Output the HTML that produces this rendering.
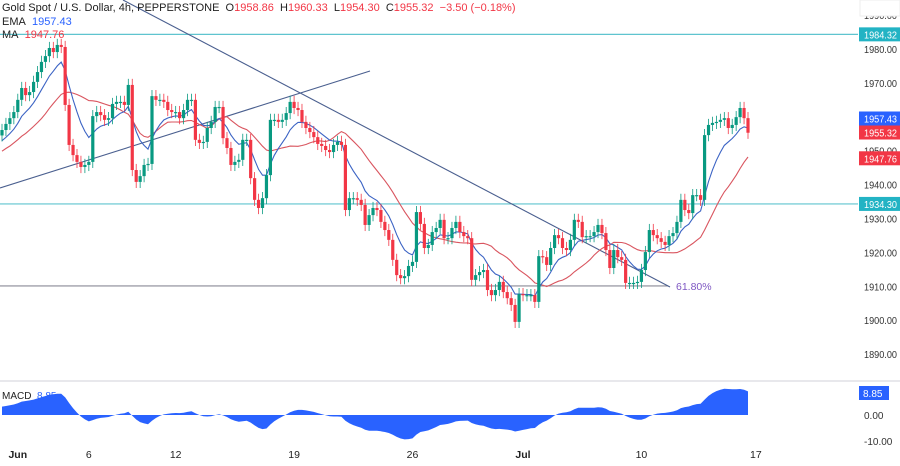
<!DOCTYPE html>
<html><head><meta charset="utf-8"><style>
body{margin:0;background:#fff;width:900px;height:461px;overflow:hidden;font-family:"Liberation Sans",sans-serif}
svg text{font-family:"Liberation Sans",sans-serif}
</style></head><body>
<svg id="c" width="900" height="461" xmlns="http://www.w3.org/2000/svg"></svg>
<script>
const preCloses=[1940,1942,1945,1943,1946,1948,1950,1947,1949,1951,1952,1950,1948,1951,1953,1955,1952,1950,1954,1955];
const closes=[1956.1,1957.9,1959.6,1961.4,1965.0,1968.5,1966.4,1967.3,1970.3,1973.2,1976.2,1977.9,1980.3,1979.1,1981.2,1980.6,
1963.5,1951.7,1948.7,1946.7,1945.2,1945.8,1946.7,
1960.2,1961.4,1960.5,1959.1,1959.6,1963.8,1964.4,1964.4,1963.5,1969.4,
1944.3,1940.8,1942.5,1945.8,1946.1,1966.1,1965.0,1965.0,1964.4,1962.0,1961.4,1961.4,1959.6,1962.0,1965.0,1965.0,
1953.2,1952.3,1952.6,1956.7,1958.5,1962.9,1962.9,1953.7,1950.8,1945.8,1946.7,1947.3,1953.2,1953.2,
1941.9,1935.5,1933.1,1936.0,1942.8,1959.1,1959.1,1958.5,1959.1,1961.1,1964.4,1962.6,
1962.0,1958.5,1956.7,1955.5,1954.0,1952.0,1951.4,1950.2,1949.6,1951.7,1952.6,1951.7,
1932.5,1936.0,1936.0,1935.5,1934.0,1928.1,1931.0,1933.1,1932.5,1929.0,1926.6,1923.7,1917.8,1913.3,1912.4,1913.0,1916.0,1917.2,
1931.9,1928.4,1921.3,1922.2,1926.0,1927.2,1929.6,1924.2,1924.2,1927.2,1929.0,1926.0,1924.8,1924.2,
1911.9,1913.3,1914.2,1914.8,1908.9,1907.4,1908.9,1911.3,1908.3,1906.5,1904.5,1899.5,1907.7,1907.4,1907.4,1907.4,1905.4,
1918.9,1918.6,1916.3,1921.3,1925.1,1924.2,1921.3,1920.7,1923.7,1929.6,1929.0,1924.5,1924.8,1924.8,1926.0,1928.1,1925.7,1920.7,1915.4,1920.7,1918.6,1917.8,1911.0,1911.0,1911.0,1911.3,1914.8,1920.1,1926.6,1925.1,1924.2,1923.1,1922.2,1924.8,1925.7,1929.0,1935.5,1932.5,1931.6,1936.9,1936.9,1935.5,1954.6,1957.6,1958.2,1958.5,1959.1,1959.6,1956.7,1957.6,1959.9,1962.6,1959.6,1955.3];
const priceTicks=[1990,1980,1970,1960,1950,1940,1930,1920,1910,1900,1890];
const macdTicks=[0,-10];
const dateLabels=["Jun","6","12","19","26","Jul","10","17"];
const dateIdx=[4,22,44,74,104,132,162,191];
const levels=[1984.32,1934.30];
const fibLevel=1910.1;

const svg=document.getElementById('c');const NS='http://www.w3.org/2000/svg';
function mk(t,a,p){const e=document.createElementNS(NS,t);for(const k in a)e.setAttribute(k,a[k]);(p||svg).appendChild(e);return e;}
const N=closes.length;
const X=i=>2+i*(746/(N-1));
const Y=p=>49+(1980-p)*3.39;
const MY=v=>415-v*2.6;
levels.forEach((l,k)=>{const e=mk('line',{x1:0,x2:858,y1:Y(l),y2:Y(l),stroke:'#5fc4cf','stroke-width':1.2});
});
const fib=mk('line',{x1:0,x2:668,y1:Y(fibLevel),y2:Y(fibLevel),stroke:'#8a8a96','stroke-width':1.2});

const ft=mk('text',{x:676,y:Y(fibLevel)+4,'font-size':10.5,fill:'#7e57c2'});ft.textContent='61.80%';

const t1=mk('line',{x1:123,y1:0,x2:670,y2:287,stroke:'#4a5f8f','stroke-width':1.1});

const t2=mk('line',{x1:0,y1:188,x2:370,y2:71,stroke:'#4a5f8f','stroke-width':1.1});

const all=preCloses.concat(closes);const P=preCloses.length;
function ema(arr,n){const k=2/(n+1);let out=[],v=arr[0];arr.forEach(a=>{v=a*k+v*(1-k);out.push(v);});return out;}
const e9=ema(all,9);
const ma=all.map((_,i)=>{const s=all.slice(Math.max(0,i-19),i+1);return s.reduce((a,b)=>a+b,0)/s.length;});
const e12=ema(all,12),e26=ema(all,26);const macd=all.map((_,i)=>e12[i]-e26[i]);
function line(vals,col,name){let d='';for(let i=0;i<N;i++)d+=(i?'L':'M')+X(i).toFixed(1)+','+Y(vals[i+P]).toFixed(1);
const e=mk('path',{d:d,fill:'none',stroke:col,'stroke-width':1.1});}
line(ma,'#d9555f','ma-line');line(e9,'#3b63c4','ema-line');
const g=mk('g',{});
for(let i=0;i<N;i++){const o=i?closes[i-1]:1954.5,c=closes[i];const up=c>=o;const col=up?'#089981':'#f23645';
const hi=Math.max(o,c)+1.8,lo=Math.min(o,c)-1.8;const x=X(i);
const w=mk('line',{x1:x,x2:x,y1:Y(hi),y2:Y(lo),stroke:col,'stroke-width':0.8},g);

const b=mk('rect',{x:x-1.6,y:Y(Math.max(o,c)),width:3.2,height:Math.max(1.2,Math.abs(Y(o)-Y(c))),fill:col},g);
}
priceTicks.forEach(p=>{const t=mk('text',{x:864,y:Y(p)+4,'font-size':10,fill:'#333',textLength:33,lengthAdjust:'spacingAndGlyphs'});t.textContent=p.toFixed(2);
});
const wb=mk('rect',{x:860,y:0,width:40,height:16,fill:'#fff',stroke:'#eee'});
function badge(p,col,name,yo){const y=yo||Y(p);const r=mk('rect',{x:859,y:y-7,width:41,height:14,fill:col});

const t=mk('text',{x:864,y:y+4,'font-size':10,fill:'#fff',textLength:33,lengthAdjust:'spacingAndGlyphs'});t.textContent=p.toFixed(2);
}
badge(1984.32,'#22b3c4','level-badge-top');badge(1957.43,'#2962ff','ema-badge',118.5);
badge(1955.32,'#f23645','close-badge',132.5);badge(1947.76,'#f23645','ma-badge');badge(1934.30,'#22b3c4','level-badge-bottom');
const hd=mk('text',{x:2,y:11,'font-size':11,fill:'#222'});
hd.innerHTML='Gold Spot / U.S. Dollar, 4h, PEPPERSTONE&#160;&#160;O<tspan fill="#f23645">1958.86</tspan>&#160;&#160;H<tspan fill="#f23645">1960.33</tspan>&#160;&#160;L<tspan fill="#f23645">1954.30</tspan>&#160;&#160;C<tspan fill="#f23645">1955.32</tspan>&#160;&#160;<tspan fill="#f23645">−3.50 (−0.18%)</tspan>';
const l1=mk('text',{x:2,y:25,'font-size':11,fill:'#222'});l1.innerHTML='EMA&#160;&#160;<tspan fill="#2962ff">1957.43</tspan>';

const l2=mk('text',{x:2,y:38,'font-size':11,fill:'#222'});l2.innerHTML='MA&#160;&#160;<tspan fill="#f23645">1947.76</tspan>';

const sp=mk('line',{x1:0,x2:900,y1:381,y2:381,stroke:'#e8e8ec','stroke-width':2});
let d='M'+X(0)+','+MY(0);for(let i=0;i<N;i++)d+='L'+X(i).toFixed(1)+','+MY(macd[i+P]).toFixed(1);d+='L'+X(N-1)+','+MY(0)+'Z';
const ar=mk('path',{d:d,fill:'#2962ff'});
const ml=mk('text',{x:2,y:399,'font-size':10,fill:'#222'});ml.innerHTML='MACD&#160;&#160;<tspan fill="#2962ff">8.85</tspan>';

macdTicks.forEach(v=>{const t=mk('text',{x:864,y:MY(v)+4,'font-size':10,fill:'#333'});t.textContent=v.toFixed(2);
});
const mb=mk('rect',{x:859,y:386,width:30,height:14,fill:'#2962ff'});
const mbt=mk('text',{x:863,y:397,'font-size':10,fill:'#fff'});mbt.textContent='8.85';
dateLabels.forEach((s,k)=>{const t=mk('text',{x:X(dateIdx[k]),y:458,'font-size':10.5,fill:'#222','text-anchor':'middle'});t.textContent=s;
if(s==='Jun'||s==='Jul')t.setAttribute('font-weight','bold');
});
</script>
</body></html>
